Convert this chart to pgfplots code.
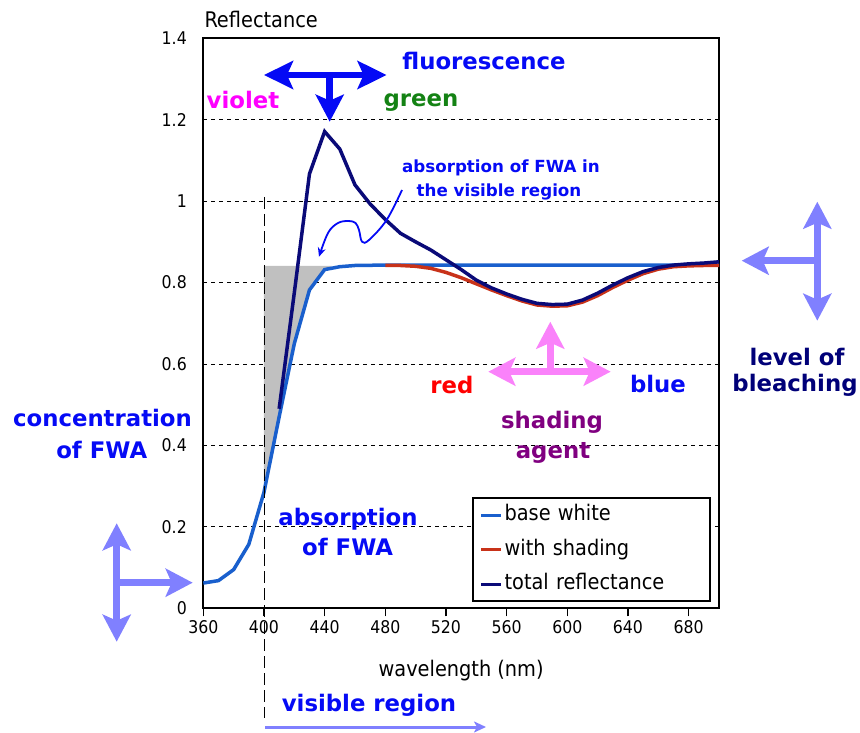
\documentclass[border=0pt]{standalone}
\usepackage{pgfplots}
\pgfplotsset{compat=1.18}
\usetikzlibrary{arrows.meta}
\usepackage{fontspec}
\setmainfont{DejaVu Sans Condensed}
\newfontfamily\annfont{DejaVu Sans}

\definecolor{basewhite}{RGB}{25,95,205}
\definecolor{shadingred}{RGB}{200,50,25}
\definecolor{totalnavy}{RGB}{10,10,120}
\definecolor{fillgray}{RGB}{192,192,192}
\definecolor{lightarrow}{RGB}{128,128,255}
\definecolor{pinkarrow}{RGB}{250,130,250}
\definecolor{annblue}{RGB}{5,10,245}
\definecolor{violettext}{RGB}{255,0,255}
\definecolor{greentext}{RGB}{20,130,20}
\definecolor{purpletext}{RGB}{128,0,128}
\definecolor{navytext}{RGB}{0,0,120}
\definecolor{redtext}{RGB}{255,0,0}

\newcommand\ann{\annfont\bfseries\fontsize{22.8}{27}\selectfont}
\newcommand\annsmall{\annfont\bfseries\fontsize{16.7}{20}\selectfont}

\begin{document}
\begin{tikzpicture}[x=1pt,y=1pt]
\useasboundingbox (0,0) rectangle (860,732);
\begin{axis}[
  at={(203.3pt,123.7pt)}, anchor=south west,
  scale only axis, width=515.7pt, height=570pt,
  xmin=360, xmax=700, ymin=0, ymax=1.4,
  xtick={360,400,...,680},
  ytick={0,0.2,0.4,0.6,0.8,1,1.2,1.4},
  yticklabels={0,0.2,0.4,0.6,0.8,1,1.2,1.4},
  tick pos=left, tick align=outside,
  major tick length=8pt,
  xtick style={black, line width=1.3pt},
  ytick style={draw=none},
  ymajorgrids,
  grid style={black, line width=0.8pt, dash pattern=on 4pt off 4pt},
  axis line style={line width=1.8pt},
  /pgf/number format/assume math mode=true,
  tick label style={font=\fontsize{17.5}{20}\selectfont},
  yticklabel style={xshift=-5pt},
  xticklabel style={yshift=-1pt},
  xlabel={wavelength (nm)},
  ylabel={Reflectance},
  every axis x label/.style={at={(axis description cs:0.5,0)}, anchor=base, yshift=-68.4pt, font=\fontsize{21.5}{25}\selectfont},
  every axis y label/.style={at={(axis description cs:0,1)}, anchor=base west, inner sep=0pt, xshift=1pt, yshift=11pt, font=\fontsize{21.5}{25}\selectfont},
  legend cell align=left,
  legend style={at={(rel axis cs:0.5205,0.1947)}, anchor=north west,
    draw=black, line width=1.8pt, fill=white,
    inner xsep=7pt, inner ysep=4.3pt, row sep=9.5pt,
    nodes={inner sep=2pt, text height=16pt, text depth=5pt, text width=196pt},
    font=\fontsize{21.5}{25}\selectfont},
  legend image code/.code={\draw[#1, line width=3pt] (0pt,0pt) -- (20pt,0pt);},
  clip=false,
]
% FWA absorption area between the base curve and the plateau
\addplot[fill=fillgray, draw=none, forget plot] coordinates {
  (400,0.841) (400,0.285) (410,0.47) (420,0.65) (430,0.782) (440,0.832) (445,0.841)};

\addplot[basewhite, line width=3.5pt] coordinates {
  (360,0.062) (370,0.068) (380,0.095) (390,0.157) (400,0.285) (410,0.47)
  (420,0.65) (430,0.782) (440,0.832) (450,0.839) (460,0.842) (480,0.843)
  (520,0.843) (560,0.843) (600,0.843) (640,0.843) (680,0.843) (700,0.843)};
\addlegendentry{base white}

\addplot[shadingred, line width=3.5pt] coordinates {
  (480,0.842) (490,0.842) (500,0.840) (510,0.835) (520,0.825) (530,0.812)
  (540,0.797) (550,0.782) (560,0.768) (570,0.755) (580,0.745) (590,0.742)
  (600,0.743) (610,0.752) (620,0.768) (630,0.788) (640,0.806) (650,0.822)
  (660,0.833) (670,0.839) (680,0.841) (690,0.842) (700,0.842)};
\addlegendentry{with shading}

\addplot[totalnavy, line width=3.5pt] coordinates {
  (410,0.49) (420,0.775) (430,1.067) (440,1.171) (450,1.128) (460,1.04)
  (470,0.993) (480,0.955) (490,0.921) (500,0.9) (510,0.88) (520,0.856)
  (530,0.832) (540,0.806) (550,0.787) (560,0.772) (570,0.759) (580,0.749)
  (590,0.746) (600,0.747) (610,0.757) (620,0.774) (630,0.794) (640,0.812)
  (650,0.827) (660,0.837) (670,0.843) (680,0.846) (690,0.848) (700,0.851)};
\addlegendentry{total reflectance}
\end{axis}

\begin{scope}[x=1pt, y=-1pt, yshift=732pt]
  % start of the visible region
  \draw[black, line width=1pt, dash pattern=on 12pt off 5pt] (264.8,197) -- (264.8,718);
  \draw[lightarrow, line width=3pt, -{Stealth[length=12pt,width=11pt,inset=3pt]}] (265,727) -- (486,727);
  \node[anchor=base, text=annblue, font=\ann] at (369,711) {visible region};

  % fluorescence arrows
  \draw[annblue, line width=6.5pt, {Stealth[length=29pt,width=28pt,inset=6pt]}-{Stealth[length=29pt,width=28pt,inset=6pt]}] (264,75) -- (386.6,75);
  \draw[annblue, line width=6.5pt, -{Stealth[length=27pt,width=28pt,inset=6pt]}] (329.7,75) -- (329.7,121.7);
  \node[anchor=base, text=annblue, font=\ann] at (484,70) {fluorescence};
  \node[anchor=base, text=violettext, font=\ann] at (243,109) {violet};
  \node[anchor=base, text=greentext, font=\ann] at (421,106.5) {green};

  % absorption in the visible region
  \node[anchor=base, text=annblue, font=\annsmall] at (501,173) {absorption of FWA in};
  \node[anchor=base, text=annblue, font=\annsmall] at (499,196.5) {the visible region};
  \draw[annblue, line width=1.8pt, -{Stealth[length=9pt,width=8pt]}]
    plot[smooth, tension=0.6] coordinates {(402,190) (386.6,220) (369,240) (362,241.7) (359,230) (355.5,223) (348.6,221) (338,223) (328,233) (319,256.7)};

  % concentration of FWA
  \draw[lightarrow, line width=7pt, {Stealth[length=27pt,width=28pt,inset=6pt]}-{Stealth[length=27pt,width=28pt,inset=6pt]}] (116.7,523.3) -- (116.7,641.7);
  \draw[lightarrow, line width=7pt, -{Stealth[length=27pt,width=28pt,inset=6pt]}] (116.7,582.7) -- (192.7,582.7);
  \node[anchor=base, text=annblue, font=\ann] at (102.5,426.7) {concentration};
  \node[anchor=base, text=annblue, font=\ann] at (101.7,459) {of FWA};

  \node[anchor=base, text=annblue, font=\ann] at (348,525) {absorption};
  \node[anchor=base, text=annblue, font=\ann] at (347.6,555) {of FWA};

  % shading agent
  \draw[pinkarrow, line width=7pt, {Stealth[length=27pt,width=28pt,inset=6pt]}-{Stealth[length=27pt,width=28pt,inset=6pt]}] (488.3,371.7) -- (610.7,371.7);
  \draw[pinkarrow, line width=7pt, -{Stealth[length=27pt,width=28pt,inset=6pt]}] (550.3,371.7) -- (550.3,321.7);
  \node[anchor=base, text=redtext, font=\ann] at (452,394) {red};
  \node[anchor=base, text=annblue, font=\ann] at (658,392.3) {blue};
  \node[anchor=base, text=purpletext, font=\ann] at (552,428.3) {shading};
  \node[anchor=base, text=purpletext, font=\ann] at (553,458.3) {agent};

  % level of bleaching
  \draw[lightarrow, line width=7pt, {Stealth[length=27pt,width=28pt,inset=6pt]}-{Stealth[length=27pt,width=28pt,inset=6pt]}] (817.3,201.7) -- (817.3,320.7);
  \draw[lightarrow, line width=7pt, -{Stealth[length=27pt,width=28pt,inset=6pt]}] (817.3,260.7) -- (741.7,260.7);
  \node[anchor=base, text=navytext, font=\ann] at (797,366) {level of};
  \node[anchor=base, text=navytext, font=\ann] at (795,392) {bleaching};
\end{scope}
\end{tikzpicture}
\end{document}
